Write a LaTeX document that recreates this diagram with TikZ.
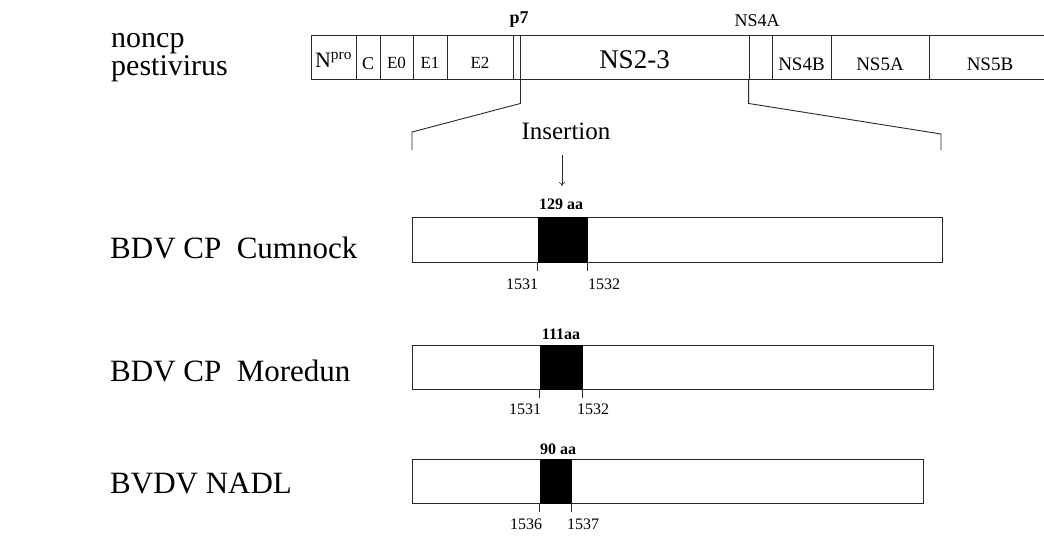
\documentclass[tikz,border=0pt]{standalone}
\usepackage{fontspec}
\setmainfont{Liberation Serif}
\usepackage{tikz}
\usetikzlibrary{arrows.meta, positioning, calc}
\definecolor{lineblack}{RGB}{40, 40, 40}
\tikzstyle{seg} = [rectangle, draw=lineblack, line width=0.9pt, minimum height=44pt, inner sep=0pt, text height=27pt, text depth=0pt, font=\fontsize{19}{19}\selectfont]
\tikzstyle{genome} = [rectangle, draw=lineblack, line width=0.9pt, inner sep=0pt]
\tikzstyle{insert} = [rectangle, draw=black, fill=black, line width=0.9pt, inner sep=0pt]
\tikzstyle{strain} = [anchor=base west, inner sep=0pt, font=\fontsize{31}{31}\selectfont]
\tikzstyle{posnum} = [inner sep=0pt, font=\fontsize{16}{16}\selectfont]
\tikzstyle{aasize} = [inner sep=0pt, font=\bfseries\fontsize{16}{16}\selectfont]
\tikzstyle{bracket} = [draw=lineblack, line width=0.9pt]
\tikzstyle{tick} = [draw=lineblack, line width=0.6pt]
\tikzstyle{arrow} = [-{To[length=4pt, width=6pt]}, line width=0.6pt, draw=lineblack]

\begin{document}
\begin{tikzpicture}[x=1pt, y=-1pt]
    \useasboundingbox (0,0) rectangle (1044,536);

    % Genome of the noncp pestivirus
    \node[strain, font=\fontsize{30}{30}\selectfont] (noncp) at (111,47) {noncp};
    \node[strain, font=\fontsize{30}{30}\selectfont] (pesti) at (111,75) {pestivirus};

    \node[seg, minimum width=45pt, text height=20pt, font=\fontsize{22}{22}\selectfont] (npro) at (333.5,57) {N\textsuperscript{pro}};
    \node[seg, minimum width=24pt, text height=24pt, font=\fontsize{18}{18}\selectfont] (c) at (368,57) {C};
    \node[seg, minimum width=33pt, text height=22pt, font=\fontsize{17}{17}\selectfont] (e0) at (396.5,57) {E0};
    \node[seg, minimum width=34pt, text height=22pt, font=\fontsize{17}{17}\selectfont] (e1) at (430,57) {E1};
    \node[seg, minimum width=66pt, text height=22pt, font=\fontsize{17}{17}\selectfont] (e2) at (480,57) {E2};
    \node[seg, minimum width=7pt] (p7) at (516.5,57) {};
    \node[seg, minimum width=229pt, text height=23pt, font=\fontsize{27}{27}\selectfont] (ns23) at (634.5,57) {NS2-3};
    \node[seg, minimum width=23pt] (ns4a) at (760.5,57) {};
    \node[seg, minimum width=59pt] (ns4b) at (801.5,57) {NS4B};
    \node[seg, minimum width=98pt] (ns5a) at (880,57) {NS5A};
    \node[seg, minimum width=122pt] (ns5b) at (990,57) {NS5B};

    % Labels above the genome
    \node[inner sep=0pt, font=\bfseries\fontsize{18}{18}\selectfont] (p7lab) at (519,20) {p7};
    \node[inner sep=0pt, font=\fontsize{18}{18}\selectfont] (ns4alab) at (757,21) {NS4A};

    % Enlarged region
    \coordinate (lfoot) at (412,150);
    \coordinate (rfoot) at (941,150);
    \draw[bracket] (p7.south east) -- ++(0,24) -- ($(lfoot)+(0,-18)$) -- (lfoot);
    \draw[bracket] (ns4a.south west) -- ++(0,24) -- ($(rfoot)+(0,-16)$) -- (rfoot);

    \node[inner sep=0pt, font=\fontsize{25}{25}\selectfont] (ins) at (566,131) {Insertion};
    \coordinate (tail) at (562,155);
    \coordinate (tip) at (562,186);
    \draw[arrow] (tail) -- (tip);

    % BDV CP Cumnock
    \node[strain] (cumlab) at (110,258) {BDV CP\ \ Cumnock};
    \node[genome, minimum width=530pt, minimum height=45pt] (cum) at (677,239.5) {};
    \node[insert, minimum width=49pt, minimum height=45pt] (cumins) at (562.5,239.5) {};
    \node[aasize] (cumaa) at (561,204) {129 aa};
    \draw[tick] (cumins.south west) -- ++(0,9);
    \draw[tick] (cumins.south east) -- ++(0,9);
    \node[posnum] (cuma) at (522,284) {1531};
    \node[posnum] (cumb) at (604,284) {1532};

    % BDV CP Moredun
    \node[strain] (morlab) at (110,381) {BDV CP\ \ Moredun};
    \node[genome, minimum width=521pt, minimum height=44pt] (mor) at (672.5,367) {};
    \node[insert, minimum width=42pt, minimum height=44pt] (morins) at (561,367) {};
    \node[aasize] (moraa) at (561,334) {111aa};
    \draw[tick] (morins.south west) -- ++(0,9);
    \draw[tick] (morins.south east) -- ++(0,9);
    \node[posnum] (mora) at (525,409) {1531};
    \node[posnum] (morb) at (593,409) {1532};

    % BVDV NADL
    \node[strain] (nadllab) at (110,493) {BVDV NADL};
    \node[genome, minimum width=511pt, minimum height=44pt] (nadl) at (667.5,481) {};
    \node[insert, minimum width=31pt, minimum height=44pt] (nadlins) at (555.5,481) {};
    \node[aasize] (nadlaa) at (558,449) {90 aa};
    \draw[tick] (nadlins.south west) -- ++(0,9);
    \draw[tick] (nadlins.south east) -- ++(0,9);
    \node[posnum] (nadla) at (526,524) {1536};
    \node[posnum] (nadlb) at (583,524) {1537};
\end{tikzpicture}
\end{document}
